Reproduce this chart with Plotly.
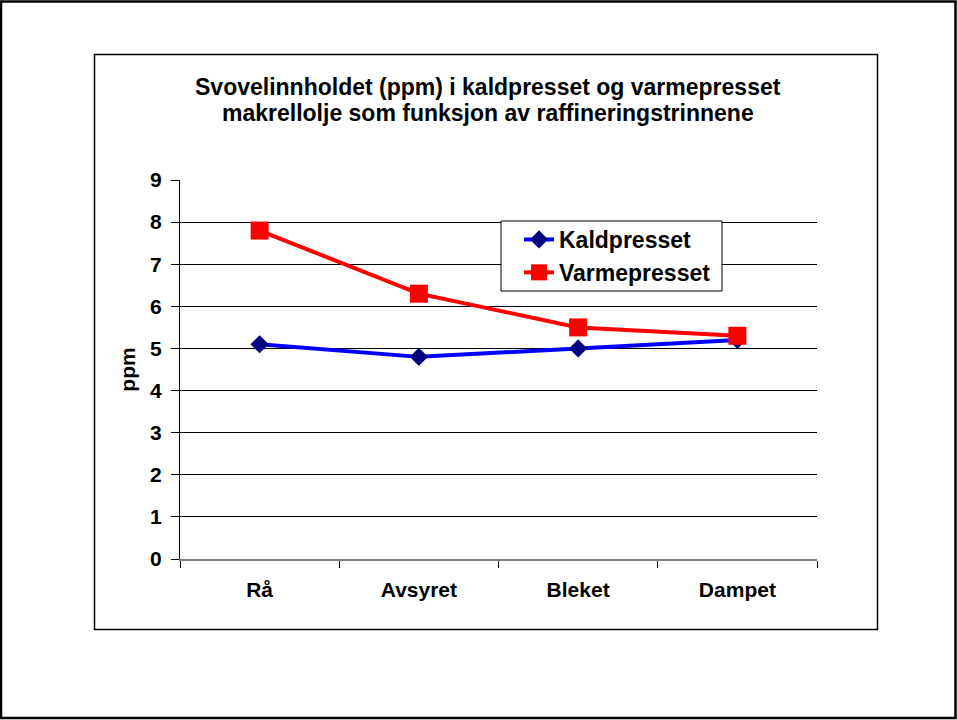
import plotly.graph_objects as go

categories = ["Rå", "Avsyret", "Bleket", "Dampet"]
kaldpresset = [5.1, 4.8, 5.0, 5.2]
varmepresset = [7.8, 6.3, 5.5, 5.3]
y_ticks = [0, 1, 2, 3, 4, 5, 6, 7, 8, 9]
grid_vals = [1, 2, 3, 4, 5, 6, 7, 8]
title_lines = [
    "Svovelinnholdet (ppm) i kaldpresset og varmepresset",
    "makrellolje som funksjon av raffineringstrinnene",
]

W, H = 957, 720
L, R, T, B = 180, 817, 180, 559
pw, ph = R - L, B - T


def px(x):
    return (x - L) / pw


def py(y):
    return (B - y) / ph


FONT = "Liberation Sans, Arial, sans-serif"

fig = go.Figure()
fig.add_trace(go.Scatter(
    x=categories, y=kaldpresset, name="Kaldpresset", mode="lines+markers",
    line=dict(color="#0000FF", width=4),
    marker=dict(symbol="diamond", size=14, color="#000080"),
))
fig.add_trace(go.Scatter(
    x=categories, y=varmepresset, name="Varmepresset", mode="lines+markers",
    line=dict(color="#FF0000", width=4),
    marker=dict(symbol="square", size=18, color="#FF0000"),
    yaxis="y2",
))

title_ann = [
    dict(text=t, xref="paper", yref="paper", x=px(488), y=py(yy),
         xanchor="center", yanchor="middle", showarrow=False,
         font=dict(size=23, weight="bold"))
    for t, yy in zip(title_lines, [87, 113])
]

fig.update_layout(
    width=W, height=H,
    margin=dict(l=L, r=W - R, t=T, b=H - B),
    paper_bgcolor="white", plot_bgcolor="white",
    font=dict(family=FONT, size=21, color="black", weight="bold"),
    showlegend=True,
    legend=dict(
        x=px(519), y=py(218), xanchor="left", yanchor="top",
        borderwidth=0, bgcolor="rgba(0,0,0,0)",
        font=dict(size=23, weight="bold"), tracegroupgap=0,
    ),
    xaxis=dict(
        type="category", range=[-0.5, 3.5], tickson="boundaries",
        ticks="outside", ticklen=7, tickcolor="black", tickwidth=1,
        showline=True, linecolor="#808080", linewidth=2,
        showgrid=False, zeroline=False,
        tickfont=dict(size=21, weight="bold"),
        ticklabelstandoff=11,
    ),
    yaxis=dict(
        range=[0, 9], tickvals=y_ticks, ticks="outside", ticklen=8,
        tickcolor="black", showline=True, linecolor="black", linewidth=1,
        showgrid=False, zeroline=False,
        tickfont=dict(size=21, weight="bold"),
        ticklabelstandoff=5,
        title=dict(text="ppm", font=dict(size=21, weight="bold"), standoff=8),
    ),
    yaxis2=dict(
        range=[0, 9], overlaying="y", tickvals=grid_vals, showgrid=True,
        gridcolor="black", gridwidth=1, showticklabels=False, ticks="",
        showline=False, zeroline=False,
    ),
    annotations=title_ann,
    shapes=[
        dict(type="rect", xref="paper", yref="paper",
             x0=px(1), x1=px(955.5), y0=py(718), y1=py(1.5),
             line=dict(color="black", width=2.5), layer="below"),
        dict(type="rect", xref="paper", yref="paper",
             x0=px(94.5), x1=px(877.5), y0=py(629.5), y1=py(54.5),
             line=dict(color="black", width=1.5), layer="below"),
        dict(type="rect", xref="paper", yref="paper",
             x0=px(501), x1=px(722), y0=py(291), y1=py(221),
             fillcolor="white", line=dict(color="black", width=1), layer="above"),
    ],
)

fig.write_html("out.html", config={"displayModeBar": False},
               post_script="document.body.style.margin='0px';")
